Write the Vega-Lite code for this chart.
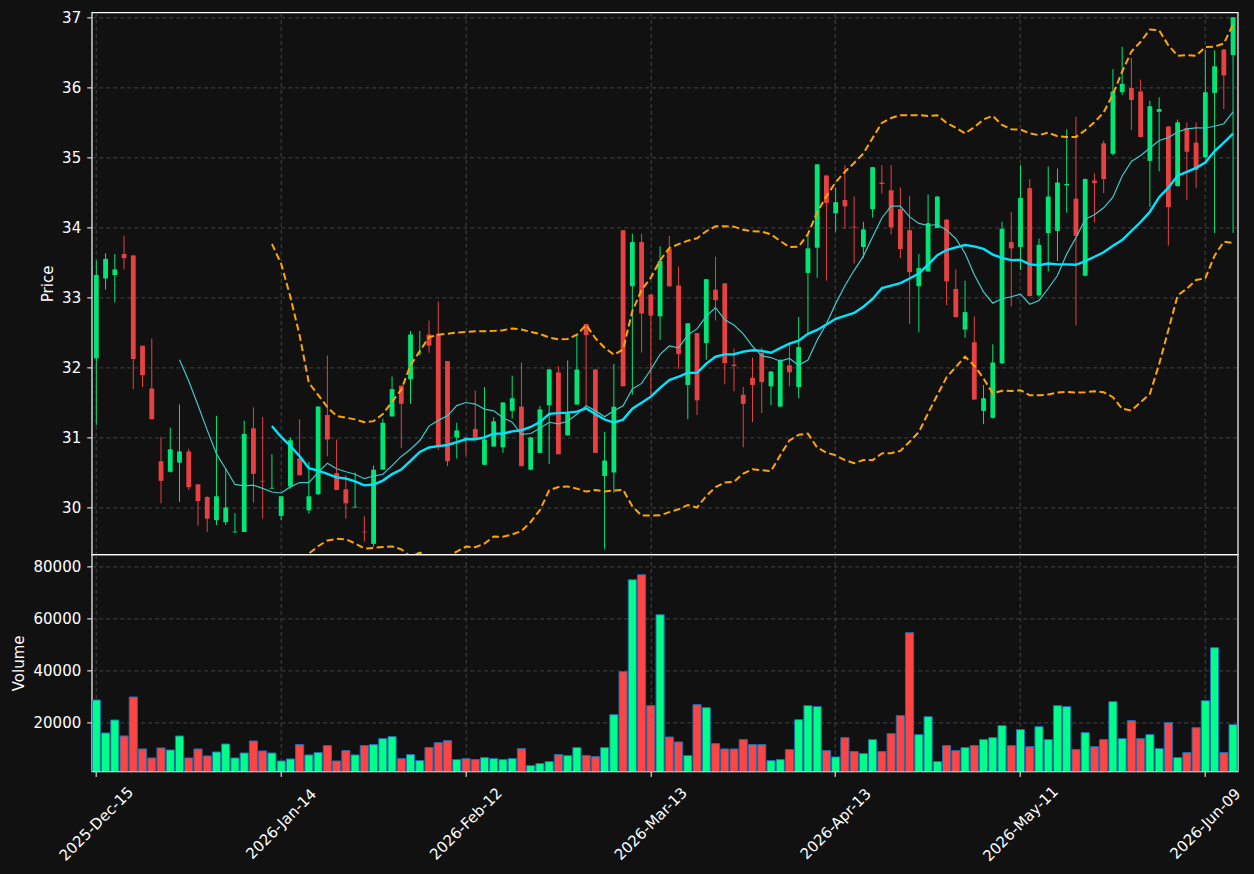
{
  "$schema": "https://vega.github.io/schema/vega-lite/v6.json",
  "background": "#111111",
  "padding": {"left": 10.7, "top": 9.4, "right": 12, "bottom": 10},
  "spacing": 0,
  "bounds": "flush",
  "datasets": {
    "ohlc": [
      {"d":"2025-12-15","o":32.13,"h":33.53,"l":31.18,"c":33.32,"v":28690},
      {"d":"2025-12-16","o":33.27,"h":33.63,"l":33.11,"c":33.55,"v":16030},
      {"d":"2025-12-17","o":33.32,"h":33.62,"l":32.93,"c":33.40,"v":21015},
      {"d":"2025-12-18","o":33.62,"h":33.88,"l":33.40,"c":33.56,"v":14875},
      {"d":"2025-12-19","o":33.60,"h":33.60,"l":31.69,"c":32.12,"v":29840},
      {"d":"2025-12-22","o":32.31,"h":32.31,"l":31.72,"c":31.89,"v":9890},
      {"d":"2025-12-23","o":31.70,"h":32.41,"l":31.26,"c":31.26,"v":6435},
      {"d":"2025-12-24","o":30.66,"h":31.01,"l":30.06,"c":30.38,"v":10270},
      {"d":"2025-12-26","o":30.51,"h":31.14,"l":30.50,"c":30.83,"v":9500},
      {"d":"2025-12-29","o":30.64,"h":31.47,"l":30.08,"c":30.80,"v":14875,"m10":32.11},
      {"d":"2025-12-30","o":30.80,"h":30.84,"l":30.25,"c":30.29,"v":6435,"m10":31.807},
      {"d":"2025-12-31","o":30.33,"h":30.33,"l":29.74,"c":30.09,"v":9890,"m10":31.461},
      {"d":"2026-01-02","o":30.15,"h":30.16,"l":29.65,"c":29.84,"v":7200,"m10":31.105},
      {"d":"2026-01-05","o":29.82,"h":31.31,"l":29.75,"c":30.16,"v":8735,"m10":30.765},
      {"d":"2026-01-06","o":29.79,"h":30.56,"l":29.75,"c":30.00,"v":11805,"m10":30.553},
      {"d":"2026-01-07","o":29.645,"h":29.92,"l":29.64,"c":29.655,"v":6435,"m10":30.329},
      {"d":"2026-01-08","o":29.65,"h":31.24,"l":29.65,"c":31.05,"v":8350,"m10":30.308},
      {"d":"2026-01-09","o":31.13,"h":31.43,"l":30.07,"c":30.48,"v":12955,"m10":30.318},
      {"d":"2026-01-12","o":30.38,"h":31.29,"l":29.84,"c":30.37,"v":9120,"m10":30.273},
      {"d":"2026-01-13","o":30.27,"h":30.76,"l":30.27,"c":30.28,"v":8350,"m10":30.221,"m20":31.165,"bu":33.765,"bl":28.565},
      {"d":"2026-01-14","o":29.88,"h":30.16,"l":29.82,"c":30.16,"v":5280,"m10":30.207,"m20":31.007,"bu":33.48,"bl":28.534},
      {"d":"2026-01-15","o":30.30,"h":31.00,"l":30.27,"c":30.96,"v":6050,"m10":30.294,"m20":30.878,"bu":33.006,"bl":28.75},
      {"d":"2026-01-16","o":30.70,"h":31.26,"l":30.46,"c":30.46,"v":11550,"m10":30.356,"m20":30.731,"bu":32.455,"bl":29.007},
      {"d":"2026-01-20","o":29.96,"h":30.65,"l":29.91,"c":30.16,"v":7585,"m10":30.356,"m20":30.561,"bu":31.78,"bl":29.342},
      {"d":"2026-01-21","o":30.19,"h":31.45,"l":30.18,"c":31.44,"v":8480,"m10":30.501,"m20":30.527,"bu":31.608,"bl":29.446},
      {"d":"2026-01-22","o":31.32,"h":32.17,"l":30.73,"c":30.97,"v":11165,"m10":30.633,"m20":30.481,"bu":31.433,"bl":29.529},
      {"d":"2026-01-23","o":30.49,"h":30.97,"l":30.25,"c":30.25,"v":5280,"m10":30.552,"m20":30.43,"bu":31.308,"bl":29.552},
      {"d":"2026-01-26","o":30.26,"h":30.46,"l":29.84,"c":30.06,"v":9250,"m10":30.51,"m20":30.414,"bu":31.283,"bl":29.545},
      {"d":"2026-01-27","o":30.00,"h":30.50,"l":30.00,"c":30.01,"v":7585,"m10":30.474,"m20":30.373,"bu":31.258,"bl":29.488},
      {"d":"2026-01-28","o":29.655,"h":29.875,"l":29.51,"c":29.645,"v":11165,"m10":30.411,"m20":30.316,"bu":31.218,"bl":29.414},
      {"d":"2026-01-29","o":29.48,"h":30.60,"l":29.44,"c":30.54,"v":11550,"m10":30.449,"m20":30.328,"bu":31.233,"bl":29.423},
      {"d":"2026-01-30","o":30.54,"h":31.27,"l":30.54,"c":31.21,"v":13850,"m10":30.474,"m20":30.384,"bu":31.333,"bl":29.435},
      {"d":"2026-02-02","o":31.30,"h":31.87,"l":31.30,"c":31.69,"v":14620,"m10":30.597,"m20":30.476,"bu":31.508,"bl":29.444},
      {"d":"2026-02-03","o":31.74,"h":31.74,"l":30.85,"c":31.48,"v":6180,"m10":30.729,"m20":30.543,"bu":31.683,"bl":29.403},
      {"d":"2026-02-04","o":31.83,"h":32.52,"l":31.48,"c":32.47,"v":7710,"m10":30.832,"m20":30.666,"bu":32.033,"bl":29.299},
      {"d":"2026-02-05","o":32.20,"h":32.52,"l":32.17,"c":32.21,"v":5410,"m10":30.956,"m20":30.794,"bu":32.233,"bl":29.355},
      {"d":"2026-02-06","o":32.47,"h":32.67,"l":32.21,"c":32.31,"v":10400,"m10":31.162,"m20":30.857,"bu":32.432,"bl":29.282},
      {"d":"2026-02-09","o":32.48,"h":32.94,"l":30.82,"c":30.88,"v":12315,"m10":31.244,"m20":30.877,"bu":32.467,"bl":29.287},
      {"d":"2026-02-10","o":32.09,"h":32.09,"l":30.59,"c":30.66,"v":13085,"m10":31.309,"m20":30.892,"bu":32.482,"bl":29.302},
      {"d":"2026-02-11","o":31.00,"h":31.21,"l":30.70,"c":31.10,"v":5795,"m10":31.455,"m20":30.933,"bu":32.497,"bl":29.369},
      {"d":"2026-02-12","o":31.00,"h":31.00,"l":30.74,"c":30.98,"v":6180,"m10":31.499,"m20":30.974,"bu":32.507,"bl":29.441},
      {"d":"2026-02-13","o":31.12,"h":31.67,"l":30.98,"c":30.98,"v":5795,"m10":31.477,"m20":30.975,"bu":32.517,"bl":29.433},
      {"d":"2026-02-17","o":30.61,"h":31.72,"l":30.61,"c":30.97,"v":6560,"m10":31.405,"m20":31.001,"bu":32.517,"bl":29.485},
      {"d":"2026-02-18","o":30.87,"h":31.29,"l":30.87,"c":31.23,"v":6180,"m10":31.38,"m20":31.054,"bu":32.522,"bl":29.586},
      {"d":"2026-02-19","o":30.86,"h":31.50,"l":30.78,"c":31.50,"v":5795,"m10":31.282,"m20":31.057,"bu":32.532,"bl":29.582},
      {"d":"2026-02-20","o":31.38,"h":31.88,"l":31.27,"c":31.56,"v":6180,"m10":31.217,"m20":31.086,"bu":32.557,"bl":29.615},
      {"d":"2026-02-23","o":31.44,"h":32.07,"l":30.59,"c":30.59,"v":10015,"m10":31.045,"m20":31.103,"bu":32.542,"bl":29.664},
      {"d":"2026-02-24","o":30.54,"h":31.01,"l":30.53,"c":31.00,"v":3490,"m10":31.056,"m20":31.15,"bu":32.507,"bl":29.793},
      {"d":"2026-02-25","o":30.78,"h":31.45,"l":30.78,"c":31.40,"v":4260,"m10":31.13,"m20":31.22,"bu":32.477,"bl":29.963},
      {"d":"2026-02-26","o":31.46,"h":31.98,"l":30.62,"c":31.97,"v":5025,"m10":31.217,"m20":31.336,"bu":32.427,"bl":30.245},
      {"d":"2026-02-27","o":31.93,"h":32.02,"l":30.76,"c":30.76,"v":7710,"m10":31.195,"m20":31.347,"bu":32.402,"bl":30.292},
      {"d":"2026-03-02","o":31.03,"h":32.10,"l":31.03,"c":31.34,"v":7330,"m10":31.231,"m20":31.354,"bu":32.407,"bl":30.301},
      {"d":"2026-03-03","o":31.47,"h":32.47,"l":31.47,"c":31.97,"v":10400,"m10":31.332,"m20":31.368,"bu":32.467,"bl":30.269},
      {"d":"2026-03-04","o":32.62,"h":32.62,"l":31.46,"c":32.46,"v":7330,"m10":31.454,"m20":31.417,"bu":32.607,"bl":30.227},
      {"d":"2026-03-05","o":31.97,"h":31.98,"l":30.78,"c":30.78,"v":6945,"m10":31.383,"m20":31.333,"bu":32.417,"bl":30.249},
      {"d":"2026-03-06","o":30.45,"h":31.08,"l":29.40,"c":30.67,"v":10400,"m10":31.294,"m20":31.256,"bu":32.282,"bl":30.23},
      {"d":"2026-03-09","o":30.50,"h":32.05,"l":30.21,"c":31.44,"v":23060,"m10":31.38,"m20":31.212,"bu":32.182,"bl":30.242},
      {"d":"2026-03-10","o":33.96,"h":33.96,"l":31.73,"c":31.73,"v":39560,"m10":31.453,"m20":31.255,"bu":32.257,"bl":30.253},
      {"d":"2026-03-11","o":33.16,"h":33.91,"l":31.61,"c":33.79,"v":74860,"m10":31.692,"m20":31.411,"bu":32.806,"bl":30.016},
      {"d":"2026-03-12","o":33.79,"h":33.91,"l":32.21,"c":32.77,"v":76780,"m10":31.772,"m20":31.495,"bu":33.106,"bl":29.884},
      {"d":"2026-03-13","o":33.04,"h":33.04,"l":31.61,"c":32.74,"v":26515,"m10":31.97,"m20":31.583,"bu":33.281,"bl":29.885},
      {"d":"2026-03-16","o":32.73,"h":33.73,"l":32.39,"c":33.52,"v":61430,"m10":32.187,"m20":31.709,"bu":33.53,"bl":29.888},
      {"d":"2026-03-17","o":33.69,"h":33.88,"l":33.15,"c":33.16,"v":14490,"m10":32.306,"m20":31.819,"bu":33.705,"bl":29.933},
      {"d":"2026-03-18","o":33.17,"h":33.44,"l":31.98,"c":32.19,"v":12570,"m10":32.279,"m20":31.867,"bu":33.76,"bl":29.974},
      {"d":"2026-03-19","o":31.75,"h":32.63,"l":31.26,"c":32.63,"v":7330,"m10":32.463,"m20":31.923,"bu":33.81,"bl":30.036},
      {"d":"2026-03-20","o":32.49,"h":32.49,"l":31.32,"c":31.53,"v":26900,"m10":32.55,"m20":31.922,"bu":33.845,"bl":29.999},
      {"d":"2026-03-23","o":32.35,"h":33.26,"l":32.11,"c":33.26,"v":25745,"m10":32.731,"m20":32.055,"bu":33.945,"bl":30.165},
      {"d":"2026-03-24","o":33.11,"h":33.58,"l":32.67,"c":32.96,"v":11930,"m10":32.854,"m20":32.153,"bu":34.015,"bl":30.291},
      {"d":"2026-03-25","o":33.20,"h":33.20,"l":31.76,"c":32.06,"v":9890,"m10":32.681,"m20":32.186,"bu":34.015,"bl":30.357},
      {"d":"2026-03-26","o":32.04,"h":32.27,"l":31.66,"c":32.02,"v":9890,"m10":32.605,"m20":32.189,"bu":34.01,"bl":30.368},
      {"d":"2026-03-27","o":31.61,"h":31.72,"l":30.86,"c":31.48,"v":13470,"m10":32.479,"m20":32.225,"bu":33.965,"bl":30.485},
      {"d":"2026-03-30","o":31.85,"h":32.14,"l":31.22,"c":31.75,"v":11550,"m10":32.302,"m20":32.245,"bu":33.945,"bl":30.545},
      {"d":"2026-03-31","o":32.21,"h":32.28,"l":31.35,"c":31.79,"v":11550,"m10":32.166,"m20":32.236,"bu":33.94,"bl":30.532},
      {"d":"2026-04-01","o":31.73,"h":31.95,"l":31.46,"c":31.94,"v":5410,"m10":32.141,"m20":32.21,"bu":33.90,"bl":30.52},
      {"d":"2026-04-02","o":31.44,"h":32.11,"l":31.44,"c":32.11,"v":5795,"m10":32.089,"m20":32.276,"bu":33.805,"bl":30.747},
      {"d":"2026-04-06","o":32.03,"h":32.36,"l":31.73,"c":31.93,"v":9630,"m10":32.129,"m20":32.339,"bu":33.72,"bl":30.958},
      {"d":"2026-04-07","o":31.72,"h":32.72,"l":31.56,"c":32.29,"v":21140,"m10":32.032,"m20":32.382,"bu":33.725,"bl":31.039},
      {"d":"2026-04-08","o":33.35,"h":33.91,"l":32.48,"c":33.70,"v":26515,"m10":32.106,"m20":32.48,"bu":33.905,"bl":31.055},
      {"d":"2026-04-09","o":33.71,"h":34.90,"l":33.28,"c":34.90,"v":26130,"m10":32.39,"m20":32.535,"bu":34.215,"bl":30.855},
      {"d":"2026-04-10","o":34.74,"h":34.75,"l":33.24,"c":34.35,"v":9250,"m10":32.623,"m20":32.614,"bu":34.444,"bl":30.784},
      {"d":"2026-04-13","o":34.20,"h":34.57,"l":33.94,"c":34.36,"v":6815,"m10":32.911,"m20":32.695,"bu":34.644,"bl":30.746},
      {"d":"2026-04-14","o":34.39,"h":34.89,"l":33.98,"c":34.30,"v":14235,"m10":33.167,"m20":32.735,"bu":34.794,"bl":30.676},
      {"d":"2026-04-15","o":34.01,"h":34.44,"l":33.48,"c":34.00,"v":8865,"m10":33.387,"m20":32.777,"bu":34.92,"bl":30.634},
      {"d":"2026-04-16","o":33.72,"h":34.08,"l":33.56,"c":33.97,"v":8095,"m10":33.59,"m20":32.866,"bu":35.055,"bl":30.677},
      {"d":"2026-04-17","o":34.26,"h":34.86,"l":34.14,"c":34.86,"v":13470,"m10":33.865,"m20":32.977,"bu":35.278,"bl":30.676},
      {"d":"2026-04-20","o":34.64,"h":34.89,"l":34.48,"c":34.62,"v":8865,"m10":34.134,"m20":33.132,"bu":35.492,"bl":30.772},
      {"d":"2026-04-21","o":34.53,"h":34.89,"l":33.90,"c":34.00,"v":15770,"m10":34.305,"m20":33.169,"bu":35.562,"bl":30.776},
      {"d":"2026-04-22","o":34.26,"h":34.57,"l":33.56,"c":33.69,"v":22675,"m10":34.304,"m20":33.205,"bu":35.602,"bl":30.808},
      {"d":"2026-04-23","o":33.96,"h":34.45,"l":32.62,"c":33.36,"v":54520,"m10":34.15,"m20":33.27,"bu":35.602,"bl":30.938},
      {"d":"2026-04-24","o":33.16,"h":33.62,"l":32.50,"c":33.42,"v":15385,"m10":34.057,"m20":33.34,"bu":35.602,"bl":31.078},
      {"d":"2026-04-27","o":33.37,"h":34.47,"l":33.37,"c":34.06,"v":22290,"m10":34.027,"m20":33.469,"bu":35.592,"bl":31.346},
      {"d":"2026-04-28","o":33.99,"h":34.45,"l":33.99,"c":34.44,"v":5025,"m10":34.041,"m20":33.604,"bu":35.602,"bl":31.606},
      {"d":"2026-04-29","o":34.11,"h":34.12,"l":32.89,"c":33.23,"v":11165,"m10":33.964,"m20":33.676,"bu":35.492,"bl":31.86},
      {"d":"2026-04-30","o":33.12,"h":33.40,"l":32.71,"c":32.72,"v":9250,"m10":33.838,"m20":33.714,"bu":35.422,"bl":32.006},
      {"d":"2026-05-01","o":32.54,"h":33.24,"l":32.42,"c":32.79,"v":10400,"m10":33.631,"m20":33.748,"bu":35.342,"bl":32.154},
      {"d":"2026-05-04","o":32.36,"h":32.73,"l":31.54,"c":31.54,"v":11165,"m10":33.323,"m20":33.729,"bu":35.432,"bl":32.026},
      {"d":"2026-05-05","o":31.38,"h":31.75,"l":31.19,"c":31.56,"v":13470,"m10":33.079,"m20":33.692,"bu":35.542,"bl":31.842},
      {"d":"2026-05-06","o":31.28,"h":32.33,"l":31.27,"c":32.07,"v":14235,"m10":32.918,"m20":33.611,"bu":35.592,"bl":31.63},
      {"d":"2026-05-07","o":32.06,"h":34.08,"l":32.05,"c":33.98,"v":18840,"m10":32.981,"m20":33.565,"bu":35.462,"bl":31.668},
      {"d":"2026-05-08","o":33.79,"h":34.22,"l":32.87,"c":33.70,"v":11165,"m10":33.009,"m20":33.533,"bu":35.402,"bl":31.664},
      {"d":"2026-05-11","o":33.72,"h":34.89,"l":33.39,"c":34.42,"v":17305,"m10":33.046,"m20":33.536,"bu":35.397,"bl":31.675},
      {"d":"2026-05-12","o":34.56,"h":34.69,"l":33.01,"c":33.02,"v":10780,"m10":32.903,"m20":33.472,"bu":35.342,"bl":31.602},
      {"d":"2026-05-13","o":33.03,"h":33.84,"l":33.01,"c":33.75,"v":18455,"m10":32.954,"m20":33.459,"bu":35.317,"bl":31.601},
      {"d":"2026-05-14","o":33.92,"h":34.87,"l":33.37,"c":34.44,"v":13470,"m10":33.127,"m20":33.483,"bu":35.352,"bl":31.614},
      {"d":"2026-05-15","o":33.95,"h":34.84,"l":33.52,"c":34.64,"v":26515,"m10":33.313,"m20":33.472,"bu":35.302,"bl":31.642},
      {"d":"2026-05-18","o":34.60,"h":35.40,"l":34.21,"c":34.62,"v":26130,"m10":33.621,"m20":33.472,"bu":35.292,"bl":31.652},
      {"d":"2026-05-19","o":34.41,"h":35.58,"l":32.60,"c":33.88,"v":9630,"m10":33.853,"m20":33.466,"bu":35.292,"bl":31.64},
      {"d":"2026-05-20","o":33.31,"h":34.70,"l":33.30,"c":34.69,"v":16155,"m10":34.115,"m20":33.517,"bu":35.387,"bl":31.647},
      {"d":"2026-05-21","o":34.67,"h":34.77,"l":34.07,"c":34.63,"v":10780,"m10":34.18,"m20":33.58,"bu":35.502,"bl":31.658},
      {"d":"2026-05-22","o":35.20,"h":35.24,"l":34.49,"c":34.69,"v":13470,"m10":34.279,"m20":33.644,"bu":35.642,"bl":31.646},
      {"d":"2026-05-26","o":35.05,"h":36.26,"l":35.03,"c":35.94,"v":28050,"m10":34.43,"m20":33.738,"bu":35.901,"bl":31.575},
      {"d":"2026-05-27","o":35.93,"h":36.58,"l":35.89,"c":36.05,"v":13850,"m10":34.734,"m20":33.818,"bu":36.226,"bl":31.41},
      {"d":"2026-05-28","o":35.99,"h":36.42,"l":35.39,"c":35.82,"v":20760,"m10":34.941,"m20":33.948,"bu":36.511,"bl":31.385},
      {"d":"2026-05-29","o":35.94,"h":36.11,"l":35.29,"c":35.29,"v":13850,"m10":35.026,"m20":34.077,"bu":36.651,"bl":31.503},
      {"d":"2026-06-01","o":34.95,"h":35.81,"l":34.29,"c":35.73,"v":15385,"m10":35.134,"m20":34.224,"bu":36.825,"bl":31.623},
      {"d":"2026-06-02","o":35.65,"h":35.86,"l":34.80,"c":35.69,"v":10015,"m10":35.241,"m20":34.431,"bu":36.815,"bl":32.047},
      {"d":"2026-06-03","o":35.44,"h":35.45,"l":33.74,"c":34.29,"v":19990,"m10":35.282,"m20":34.567,"bu":36.60,"bl":32.534},
      {"d":"2026-06-04","o":34.59,"h":35.54,"l":34.58,"c":35.50,"v":6560,"m10":35.363,"m20":34.739,"bu":36.451,"bl":33.027},
      {"d":"2026-06-05","o":35.42,"h":35.50,"l":34.39,"c":35.08,"v":8480,"m10":35.407,"m20":34.794,"bu":36.461,"bl":33.127},
      {"d":"2026-06-08","o":35.21,"h":35.50,"l":34.56,"c":34.82,"v":18070,"m10":35.42,"m20":34.85,"bu":36.451,"bl":33.249},
      {"d":"2026-06-09","o":35.00,"h":36.53,"l":34.97,"c":35.93,"v":28430,"m10":35.419,"m20":34.925,"bu":36.576,"bl":33.274},
      {"d":"2026-06-10","o":35.92,"h":36.53,"l":33.92,"c":36.30,"v":48770,"m10":35.444,"m20":35.089,"bu":36.581,"bl":33.597},
      {"d":"2026-06-11","o":36.54,"h":36.55,"l":35.69,"c":36.17,"v":8480,"m10":35.48,"m20":35.211,"bu":36.626,"bl":33.796},
      {"d":"2026-06-12","o":36.46,"h":37.00,"l":33.92,"c":37.00,"v":19225,"m10":35.651,"m20":35.338,"bu":36.90,"bl":33.776}
    ]
  },
  "vconcat": [
    {
      "width": 1146,
      "height": 542,
      "data": {"name": "ohlc"},
      "encoding": {
        "x": {
          "field": "d", "type": "ordinal",
          "scale": {"paddingInner": 0, "paddingOuter": 0},
          "axis": {
            "values": ["2025-12-15","2026-01-14","2026-02-12","2026-03-13","2026-04-13","2026-05-11","2026-06-09"],
            "labels": false, "ticks": false, "domain": false, "title": null, "grid": true
          }
        }
      },
      "layer": [
        {
          "mark": {"type": "rule", "strokeWidth": 1},
          "encoding": {
            "y": {"field": "l", "type": "quantitative", "title": "Price",
                  "scale": {"domain": [29.33, 37.07], "nice": false, "zero": false},
                  "axis": {"values": [30,31,32,33,34,35,36,37], "format": "d", "grid": true}},
            "y2": {"field": "h"},
            "color": {"condition": {"test": "datum.c >= datum.o", "value": "#00e676"}, "value": "#e84141"}
          }
        },
        {
          "mark": {"type": "bar", "width": {"band": 0.52}},
          "encoding": {
            "y": {"field": "o", "type": "quantitative", "title": "Price",
                  "scale": {"domain": [29.33, 37.07], "nice": false, "zero": false}},
            "y2": {"field": "c"},
            "color": {"condition": {"test": "datum.c >= datum.o", "value": "#00e676"}, "value": "#e84141"}
          }
        },
        {
          "mark": {"type": "line", "color": "#ffa500", "strokeWidth": 2, "strokeDash": [7, 3.5], "clip": true},
          "encoding": {
            "y": {"field": "bu", "type": "quantitative", "title": "Price",
                  "scale": {"domain": [29.33, 37.07], "nice": false, "zero": false}}
          }
        },
        {
          "mark": {"type": "line", "color": "#ffa500", "strokeWidth": 2, "strokeDash": [7, 3.5], "clip": true},
          "encoding": {
            "y": {"field": "bl", "type": "quantitative", "title": "Price",
                  "scale": {"domain": [29.33, 37.07], "nice": false, "zero": false}}
          }
        },
        {
          "mark": {"type": "line", "color": "#40c8c8", "strokeWidth": 1.2, "clip": true},
          "encoding": {
            "y": {"field": "m10", "type": "quantitative", "title": "Price",
                  "scale": {"domain": [29.33, 37.07], "nice": false, "zero": false}}
          }
        },
        {
          "mark": {"type": "line", "color": "#00e5ff", "strokeWidth": 2.4, "clip": true},
          "encoding": {
            "y": {"field": "m20", "type": "quantitative", "title": "Price",
                  "scale": {"domain": [29.33, 37.07], "nice": false, "zero": false}}
          }
        }
      ]
    },
    {
      "width": 1146,
      "height": 217,
      "data": {"name": "ohlc"},
      "mark": {"type": "bar", "width": {"band": 0.88}, "stroke": "#1f6fb4", "strokeWidth": 1, "clip": true},
      "encoding": {
        "x": {
          "field": "d", "type": "ordinal",
          "scale": {"paddingInner": 0, "paddingOuter": 0},
          "axis": {
            "values": ["2025-12-15","2026-01-14","2026-02-12","2026-03-13","2026-04-13","2026-05-11","2026-06-09"],
            "labelExpr": "utcFormat(toDate(datum.value), '%Y-%b-%d')",
            "labelAngle": -45, "labelAlign": "center", "labelBaseline": "middle",
            "labelPadding": 47, "labelOverlap": false, "labelBound": false,
            "title": null, "grid": true
          }
        },
        "y": {
          "field": "v", "type": "quantitative", "title": "Volume",
          "scale": {"domain": [1270, 84600], "nice": false, "zero": false},
          "axis": {"values": [20000, 40000, 60000, 80000], "format": "d", "grid": true}
        },
        "color": {"condition": {"test": "datum.c >= datum.o", "value": "#00ff88"}, "value": "#ff4444"}
      }
    }
  ],
  "config": {
    "view": {"stroke": "#ffffff", "strokeWidth": 1.2},
    "axis": {
      "domain": false,
      "labelColor": "#ffffff",
      "labelFont": "DejaVu Sans",
      "labelFontSize": 15,
      "labelPadding": 6,
      "titleColor": "#ffffff",
      "titleFont": "DejaVu Sans",
      "titleFontSize": 15,
      "titleFontWeight": "normal",
      "titlePadding": 6,
      "tickColor": "#ffffff",
      "tickSize": 5,
      "tickWidth": 1,
      "gridColor": "#444444",
      "gridDash": [4, 3],
      "gridWidth": 1
    }
  }
}
